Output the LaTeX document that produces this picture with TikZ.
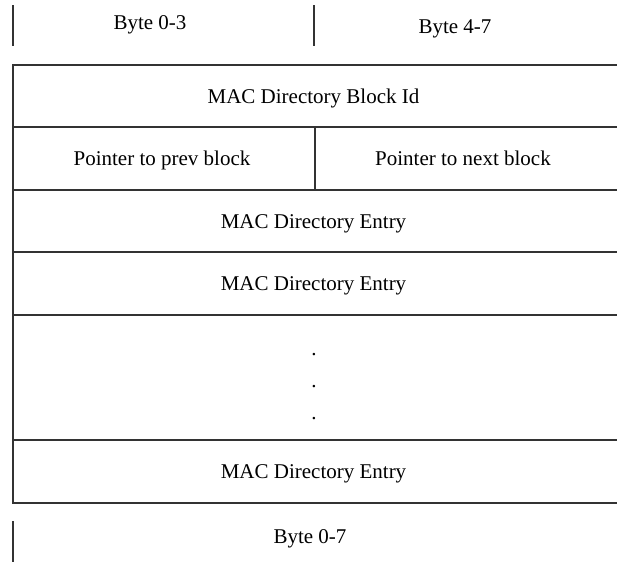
\documentclass[tikz,border=0pt]{standalone}
\usepackage{fontspec}
\setmainfont{Liberation Serif}
\begin{document}
\begin{tikzpicture}[x=1pt,y=-1pt,
  rule/.style={draw=black!80,line width=1.3pt},
  lbl/.style={inner sep=0pt,anchor=base,font=\fontsize{21}{25}\selectfont}]
\useasboundingbox (0,0) rectangle (617,562);
% header ticks
\coordinate (t1a) at (13,5);  \coordinate (t1b) at (13,46);
\coordinate (t2a) at (314,5); \coordinate (t2b) at (314,46);
\draw[rule] (t1a) -- (t1b);
\draw[rule] (t2a) -- (t2b);
\node[lbl] (h1) at (150,29) {Byte 0-3};
\node[lbl] (h2) at (455,33) {Byte 4-7};
% box
\coordinate (tl) at (13,65);
\coordinate (bl) at (13,503);
\draw[rule] (617,65) -- (tl) -- (bl) -- (617,503);
\foreach \yy in {127,190,252,315,440}{
  \draw[rule] (13,\yy) -- (617,\yy);
}
\coordinate (da) at (315,127); \coordinate (db) at (315,190);
\draw[rule] (da) -- (db);
\node[lbl] (r1) at (313.5,103) {MAC Directory Block Id};
\node[lbl] (r2a) at (162,165.5) {Pointer to prev block};
\node[lbl] (r2b) at (463,165.5) {Pointer to next block};
\node[lbl] (r3) at (313.5,228) {MAC Directory Entry};
\node[lbl] (r4) at (313.5,290.5) {MAC Directory Entry};
\node[lbl] (d1) at (314,355) {.};
\node[lbl] (d2) at (314,387) {.};
\node[lbl] (d3) at (314,419) {.};
\node[lbl] (r6) at (313.5,478.5) {MAC Directory Entry};
% footer
\coordinate (f1a) at (13,521); \coordinate (f1b) at (13,562);
\draw[rule] (f1a) -- (f1b);
\node[lbl] (f1) at (310,543) {Byte 0-7};
\end{tikzpicture}
\end{document}
